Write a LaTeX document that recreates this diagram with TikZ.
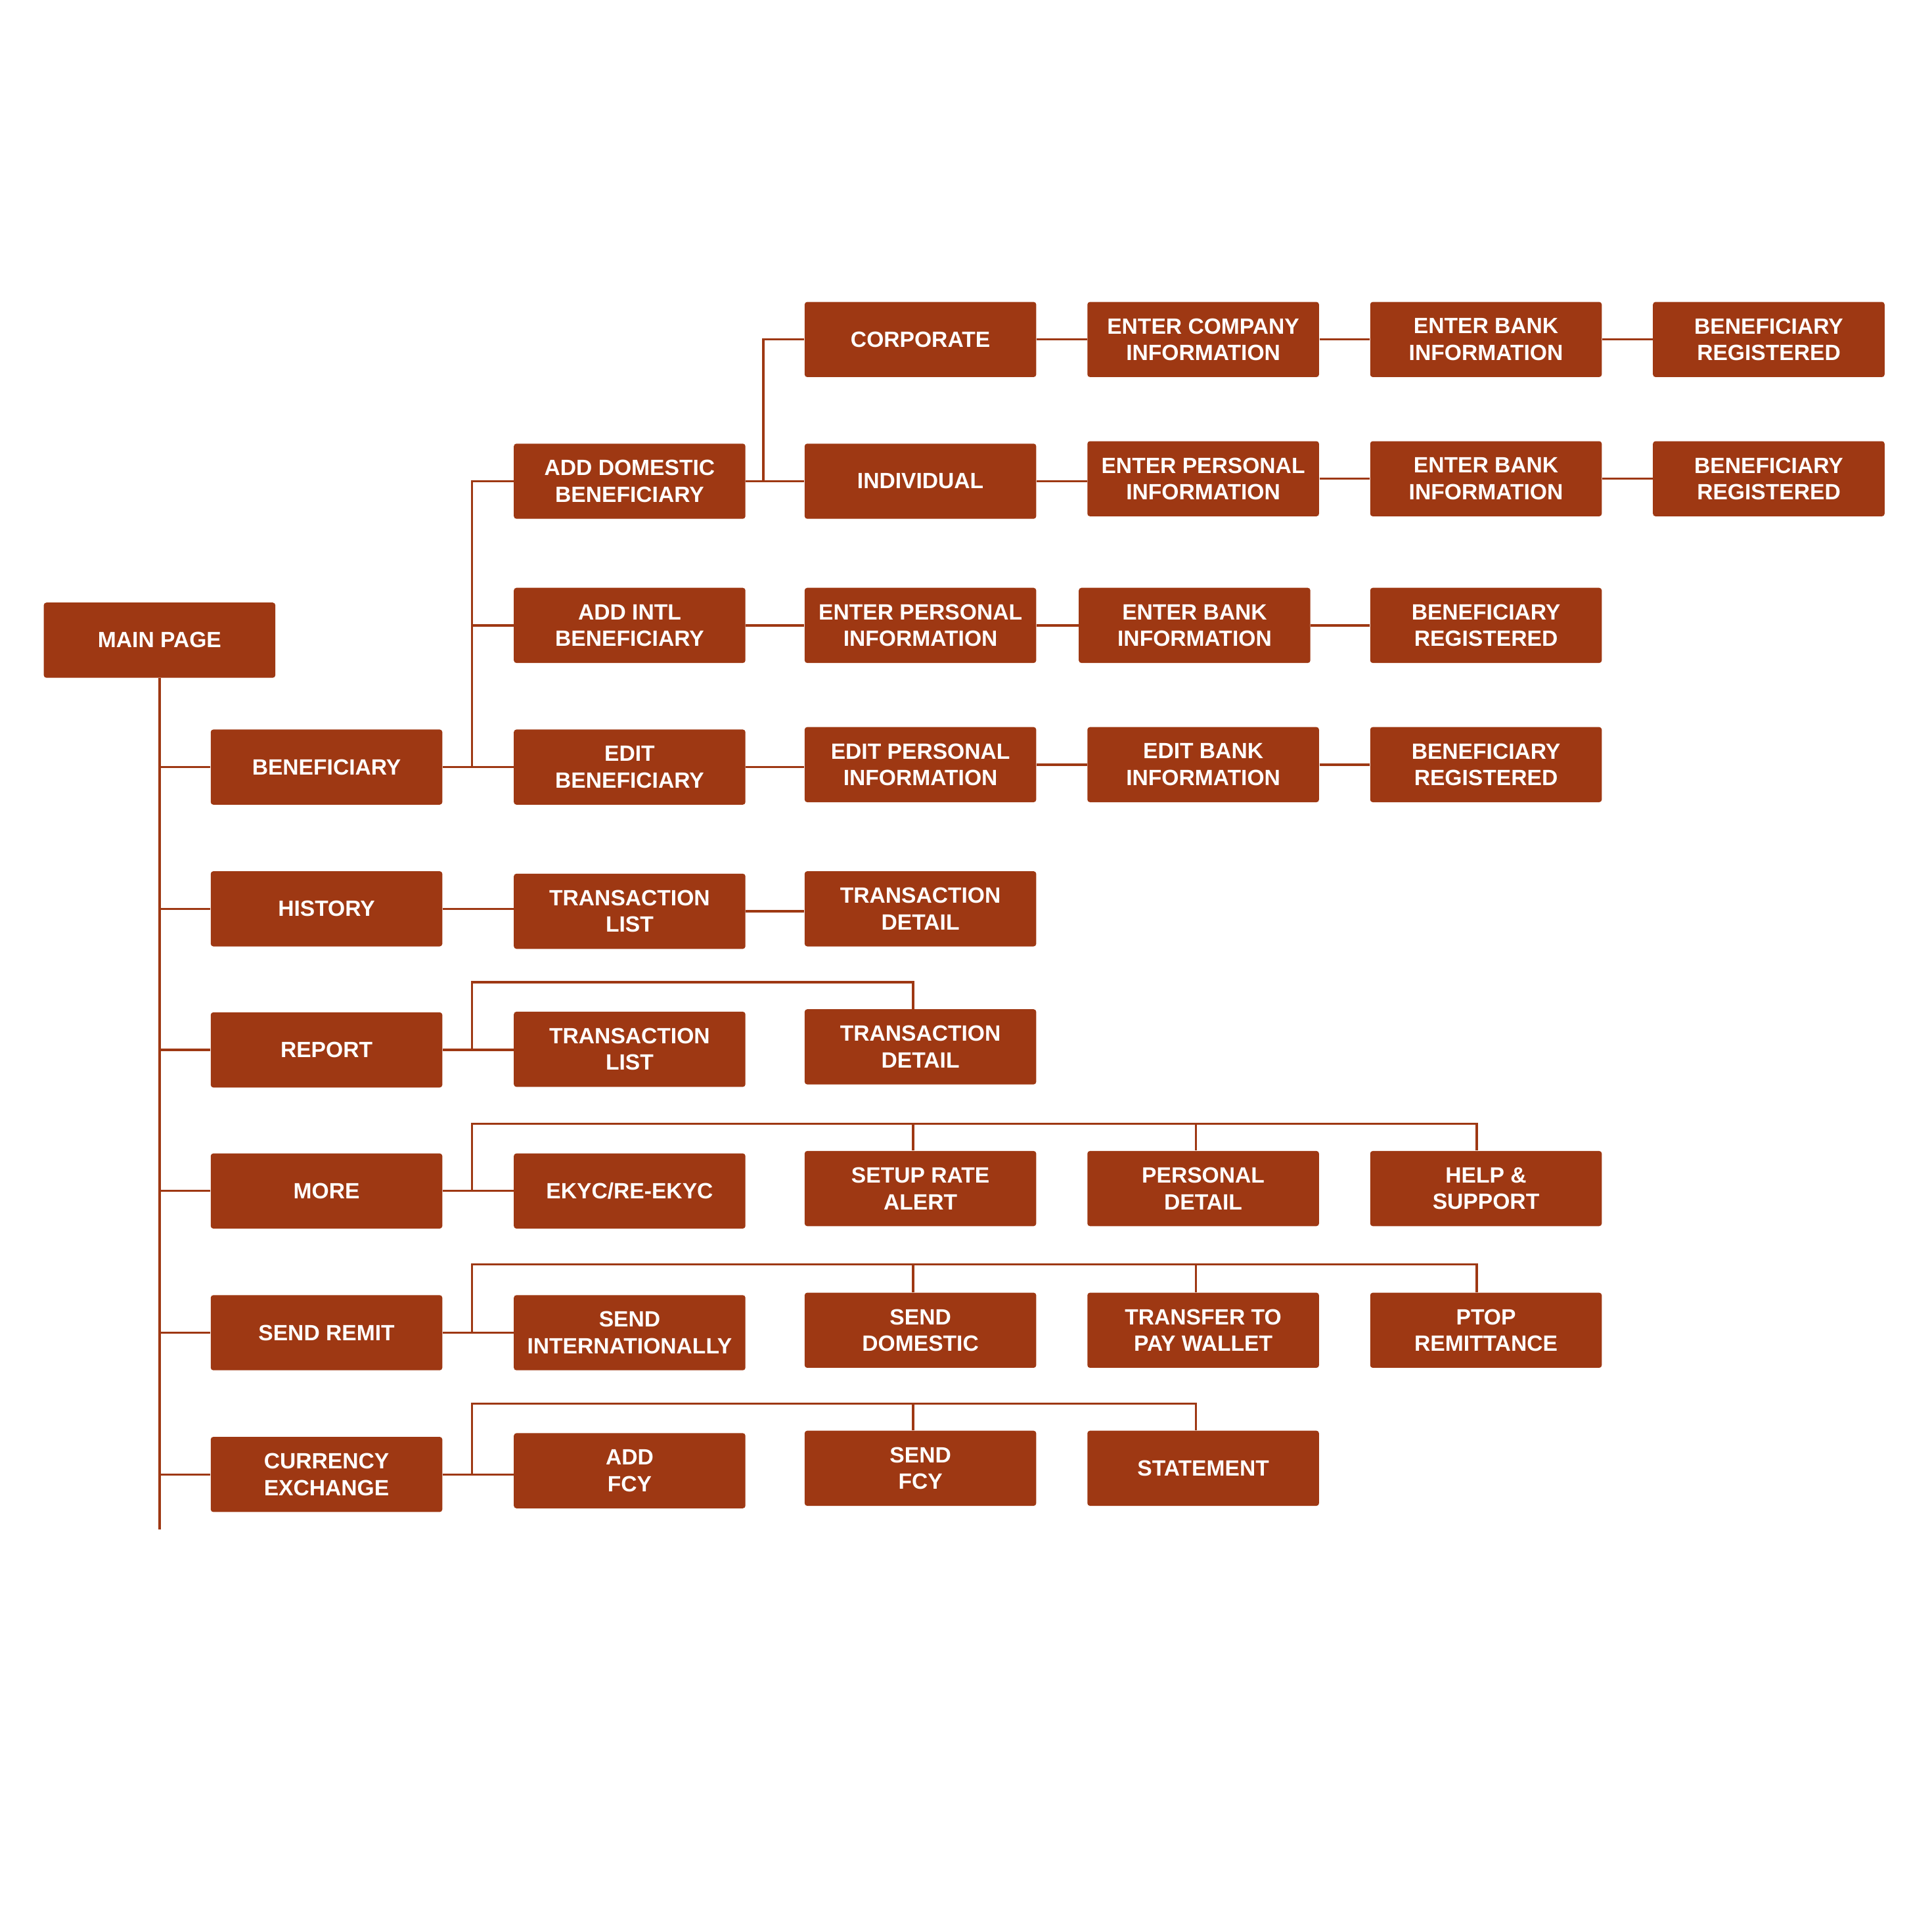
\documentclass[tikz,border=0pt]{standalone}
\usepackage{fontspec}
\setmainfont{Liberation Sans}
\usetikzlibrary{calc}

\definecolor{ruggine}{RGB}{158,56,19}

\begin{document}
\begin{tikzpicture}[
  x=0.02cm, y=-0.02cm,
  scatola/.style={fill=ruggine, draw=none, rounded corners=1.2pt,
                  minimum width=3.76cm, minimum height=1.22cm, inner sep=2pt,
                  text=white, align=center,
                  font=\bfseries\fontsize{10.2}{12.3}\selectfont},
  linea/.style={draw=ruggine, line width=1pt}
]
\useasboundingbox (0,0) rectangle (1568,1560);

%--------------------------------------------------------------
% Pagina principale e menu (prima colonna)
%--------------------------------------------------------------
\node[scatola] (main) at (129.5,519.5) {MAIN PAGE};

\foreach \nome/\cy/\testo in {benef/622.5/BENEFICIARY, hist/737.5/HISTORY,
                              report/852/REPORT, more/966.5/MORE,
                              remit/1081.5/SEND REMIT,
                              curr/1196.5/{CURRENCY\\EXCHANGE}}
  \node[scatola] (\nome) at (265,\cy) {\testo};

%--------------------------------------------------------------
% Sotto-pagine (colonne successive)
%--------------------------------------------------------------
\foreach \nome/\cx/\cy/\testo in {
    adddom/511/390.5/{ADD DOMESTIC\\BENEFICIARY},
    addintl/511/507.5/{ADD INTL\\BENEFICIARY},
    edit/511/622.5/{EDIT\\BENEFICIARY},
    tlh/511/739.5/{TRANSACTION\\LIST},
    tlr/511/851.5/{TRANSACTION\\LIST},
    ekyc/511/966.5/{EKYC/RE-EKYC},
    sendint/511/1081.5/{SEND\\INTERNATIONALLY},
    addfcy/511/1193.5/{ADD\\FCY},
    corp/747/275.5/CORPORATE,
    indiv/747/390.5/INDIVIDUAL,
    perint/747/507.5/{ENTER PERSONAL\\INFORMATION},
    peredit/747/620.5/{EDIT PERSONAL\\INFORMATION},
    tdh/747/737.5/{TRANSACTION\\DETAIL},
    tdr/747/849.5/{TRANSACTION\\DETAIL},
    setup/747/964.5/{SETUP RATE\\ALERT},
    senddom/747/1079.5/{SEND\\DOMESTIC},
    sendfcy/747/1191.5/{SEND\\FCY},
    company/976.5/275.5/{ENTER COMPANY\\INFORMATION},
    perdom/976.5/388.5/{ENTER PERSONAL\\INFORMATION},
    bankint/969.5/507.5/{ENTER BANK\\INFORMATION},
    bankedit/976.5/620.5/{EDIT BANK\\INFORMATION},
    persdet/976.5/964.5/{PERSONAL\\DETAIL},
    wallet/976.5/1079.5/{TRANSFER TO\\PAY WALLET},
    statement/976.5/1191.5/STATEMENT,
    bankcorp/1206/275.5/{ENTER BANK\\INFORMATION},
    bankind/1206/388.5/{ENTER BANK\\INFORMATION},
    regint/1206/507.5/{BENEFICIARY\\REGISTERED},
    regedit/1206/620.5/{BENEFICIARY\\REGISTERED},
    help/1206/964.5/{HELP \&\\SUPPORT},
    ptop/1206/1079.5/{PTOP\\REMITTANCE},
    regcorp/1435.5/275.5/{BENEFICIARY\\REGISTERED},
    regind/1435.5/388.5/{BENEFICIARY\\REGISTERED}}
  \node[scatola] (\nome) at (\cx,\cy) {\testo};

%--------------------------------------------------------------
% Tronco principale
%--------------------------------------------------------------
\coordinate (fine) at (129.5,1241);
\draw[linea] (main.south) -- (fine);
\foreach \n in {benef,hist,report,more,remit,curr}
  \draw[linea] (main.south |- \n.west) -- (\n.west);

%--------------------------------------------------------------
% Beneficiary
%--------------------------------------------------------------
\coordinate (gb) at (383,622.5);
\draw[linea] (benef.east) -- (edit.west);
\draw[linea] (adddom.west) -| (gb);
\draw[linea] (gb |- addintl.west) -- (addintl.west);

\coordinate (gd) at ($(adddom.east)!0.3!(indiv.west)$);
\draw[linea] (adddom.east) -- (indiv.west);
\draw[linea] (corp.west) -| (gd);

\draw[linea] (corp.east) -- (company.west);
\draw[linea] (company.east) -- (bankcorp.west);
\draw[linea] (bankcorp.east) -- (regcorp.west);

\draw[linea] (indiv.east) -- (indiv.east -| perdom.west);
\draw[linea] (perdom.east) -- (bankind.west);
\draw[linea] (bankind.east) -- (regind.west);

\draw[linea] (addintl.east) -- (perint.west);
\draw[linea] (perint.east) -- (bankint.west);
\draw[linea] (bankint.east) -- (regint.west);

\draw[linea] (edit.east) -- (edit.east -| peredit.west);
\draw[linea] (peredit.east) -- (bankedit.west);
\draw[linea] (bankedit.east) -- (regedit.west);

%--------------------------------------------------------------
% History e report
%--------------------------------------------------------------
\draw[linea] (hist.east) -- (hist.east -| tlh.west);
\draw[linea] (tlh.east) -- (tlh.east -| tdh.west);

\coordinate (busr) at (383,797);
\draw[linea] (report.east) -- (report.east -| tlr.west);
\draw[linea] (busr |- report.east) -- (busr) -| ([xshift=-0.12cm]tdr.north);

%--------------------------------------------------------------
% More, send remit, currency exchange
%--------------------------------------------------------------
\coordinate (busm) at (383,912);
\draw[linea] (more.east) -- (ekyc.west);
\draw[linea] (busm |- more.east) -- (busm) -| ([xshift=-0.15cm]help.north);
\foreach \n in {setup,persdet}
  \draw[linea] ([xshift=-0.12cm]\n.north) -- ([xshift=-0.12cm]\n.north |- busm);

\coordinate (buss) at (383,1026);
\draw[linea] (remit.east) -- (sendint.west);
\draw[linea] (buss |- remit.east) -- (buss) -| ([xshift=-0.15cm]ptop.north);
\foreach \n in {senddom,wallet}
  \draw[linea] ([xshift=-0.12cm]\n.north) -- ([xshift=-0.12cm]\n.north |- buss);

\coordinate (busc) at (383,1139);
\draw[linea] (curr.east) -- (curr.east -| addfcy.west);
\draw[linea] (busc |- curr.east) -- (busc) -| ([xshift=-0.12cm]statement.north);
\draw[linea] ([xshift=-0.12cm]sendfcy.north) -- ([xshift=-0.12cm]sendfcy.north |- busc);

\end{tikzpicture}
\end{document}
